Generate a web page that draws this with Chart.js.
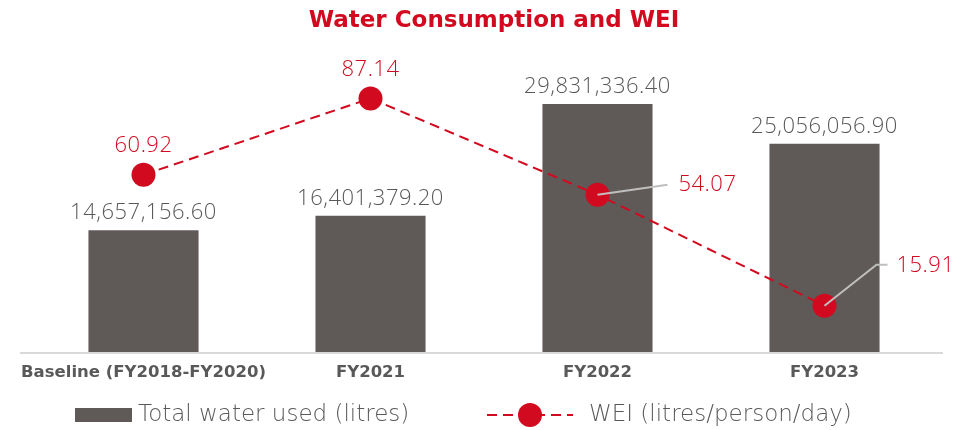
<!DOCTYPE html>
<html>
<head>
<meta charset="utf-8">
<script src="https://cdn.jsdelivr.net/npm/chart.js@4.4.1/dist/chart.umd.min.js"></script>
<style>
  html, body { margin: 0; padding: 0; background: #fff; }
  #wrap { width: 966px; height: 430px; }
</style>
</head>
<body>
<div id="wrap"><canvas id="water-chart" width="966" height="430"></canvas></div>
<script>
// Data
const categories = ['Baseline (FY2018-FY2020)', 'FY2021', 'FY2022', 'FY2023'];
const waterUsed = [14657156.60, 16401379.20, 29831336.40, 25056056.90];
const weiValues = [60.92, 87.14, 54.07, 15.91];
const seriesNames = ['Total water used (litres)', 'WEI (litres/person/day)'];
const chartTitle = 'Water Consumption and WEI';

const RED = '#d20a1f';
const BAR_GREY = '#5f5a58';
const TEXT_GREY = '#595959';
const LEADER_GREY = '#bfbfbf';
const VALUE_FONT = '"Open Sans", "Noto Sans", sans-serif';
const WIDE_FONT = '"DejaVu Sans", "Open Sans", sans-serif';

const fmtLitres = v => v.toLocaleString('en-US', { minimumFractionDigits: 2, maximumFractionDigits: 2 });

// Title, labels, axis line and legend drawn by hand (no datalabels plugin offline)
const labelPlugin = {
    id: 'labelPlugin',
    beforeDatasetsDraw(chart) {
        const ctx = chart.ctx;
        const area = chart.chartArea;
        ctx.save();
        ctx.strokeStyle = '#d9d9d9';
        ctx.lineWidth = 2;
        ctx.beginPath();
        ctx.moveTo(20, area.bottom + 1);
        ctx.lineTo(943, area.bottom + 1);
        ctx.stroke();
        ctx.restore();
    },
    afterDatasetsDraw(chart) {
        const ctx = chart.ctx;
        const bars = chart.getDatasetMeta(0).data;
        const points = chart.getDatasetMeta(1).data;
        ctx.save();
        ctx.textBaseline = 'middle';

        // bar values
        ctx.font = '300 22px ' + VALUE_FONT;
        ctx.letterSpacing = '0.5px';
        ctx.fillStyle = TEXT_GREY;
        ctx.textAlign = 'center';
        bars.forEach((bar, i) => {
            ctx.fillText(fmtLitres(waterUsed[i]), bar.x, bar.y - 17);
        });

        // WEI values
        ctx.fillStyle = RED;
        points.forEach((pt, i) => {
            const txt = weiValues[i].toFixed(2);
            if (i < 2) {
                ctx.textAlign = 'center';
                ctx.fillText(txt, pt.x, pt.y - 29);
                return;
            }
            // leader lines for the last two
            ctx.strokeStyle = LEADER_GREY;
            ctx.lineWidth = 2;
            ctx.beginPath();
            if (i === 2) {
                ctx.moveTo(pt.x, pt.y);
                ctx.lineTo(pt.x + 70, pt.y - 10);
                ctx.stroke();
                ctx.textAlign = 'left';
                ctx.fillText(txt, pt.x + 81, pt.y - 10);
            } else {
                ctx.moveTo(pt.x, pt.y);
                ctx.lineTo(pt.x + 52, pt.y - 41);
                ctx.lineTo(pt.x + 63, pt.y - 41);
                ctx.stroke();
                ctx.textAlign = 'left';
                ctx.fillText(txt, pt.x + 72, pt.y - 40);
            }
        });
        ctx.restore();
    },
    afterDraw(chart) {
        const ctx = chart.ctx;
        ctx.save();
        // title
        ctx.font = 'bold 23px ' + WIDE_FONT;
        ctx.fillStyle = RED;
        ctx.textAlign = 'center';
        ctx.textBaseline = 'middle';
        ctx.fillText(chartTitle, 494, 21);

        const y = 415;
        // bar legend item
        ctx.fillStyle = BAR_GREY;
        ctx.fillRect(75, y - 7, 57, 14);
        ctx.font = '300 23px ' + WIDE_FONT;
        ctx.textAlign = 'left';
        ctx.fillStyle = TEXT_GREY;
        ctx.fillText(seriesNames[0], 138, y);

        // line legend item
        ctx.strokeStyle = RED;
        ctx.lineWidth = 2;
        ctx.setLineDash([10, 6]);
        ctx.beginPath();
        ctx.moveTo(487, y);
        ctx.lineTo(573, y);
        ctx.stroke();
        ctx.setLineDash([]);
        ctx.fillStyle = RED;
        ctx.beginPath();
        ctx.arc(530, y, 12, 0, Math.PI * 2);
        ctx.fill();
        ctx.fillStyle = TEXT_GREY;
        ctx.fillText(seriesNames[1], 589, y);
        ctx.restore();
    }
};

const ctx = document.getElementById('water-chart').getContext('2d');
new Chart(ctx, {
    data: {
        labels: categories,
        datasets: [
            {
                type: 'bar',
                label: seriesNames[0],
                data: waterUsed,
                backgroundColor: BAR_GREY,
                yAxisID: 'y',
                barPercentage: 0.97,
                categoryPercentage: 0.5,
                order: 2
            },
            {
                type: 'line',
                label: seriesNames[1],
                data: weiValues,
                borderColor: RED,
                backgroundColor: RED,
                borderWidth: 2,
                borderDash: [10, 6],
                pointRadius: 12,
                pointHoverRadius: 12,
                pointBackgroundColor: RED,
                pointBorderWidth: 0,
                tension: 0,
                yAxisID: 'y2',
                order: 1
            }
        ]
    },
    options: {
        responsive: false,
        animation: false,
        layout: {
            padding: { left: 30, right: 28, top: 61, bottom: 48 }
        },
        scales: {
            x: {
                grid: { display: false, drawTicks: false },
                border: { display: false },
                ticks: {
                    color: TEXT_GREY,
                    font: { family: WIDE_FONT, size: 16.5, weight: 'bold' },
                    padding: 11,
                    maxRotation: 0,
                    autoSkip: false
                },
                afterFit: scale => { scale.height = 30; }
            },
            y: {
                display: false,
                min: 0,
                max: 35000000
            },
            y2: {
                display: false,
                position: 'right',
                min: 0,
                max: 100
            }
        },
        plugins: {
            legend: { display: false },
            tooltip: { enabled: false },
            title: { display: false }
        }
    },
    plugins: [labelPlugin]
});
</script>
</body>
</html>
